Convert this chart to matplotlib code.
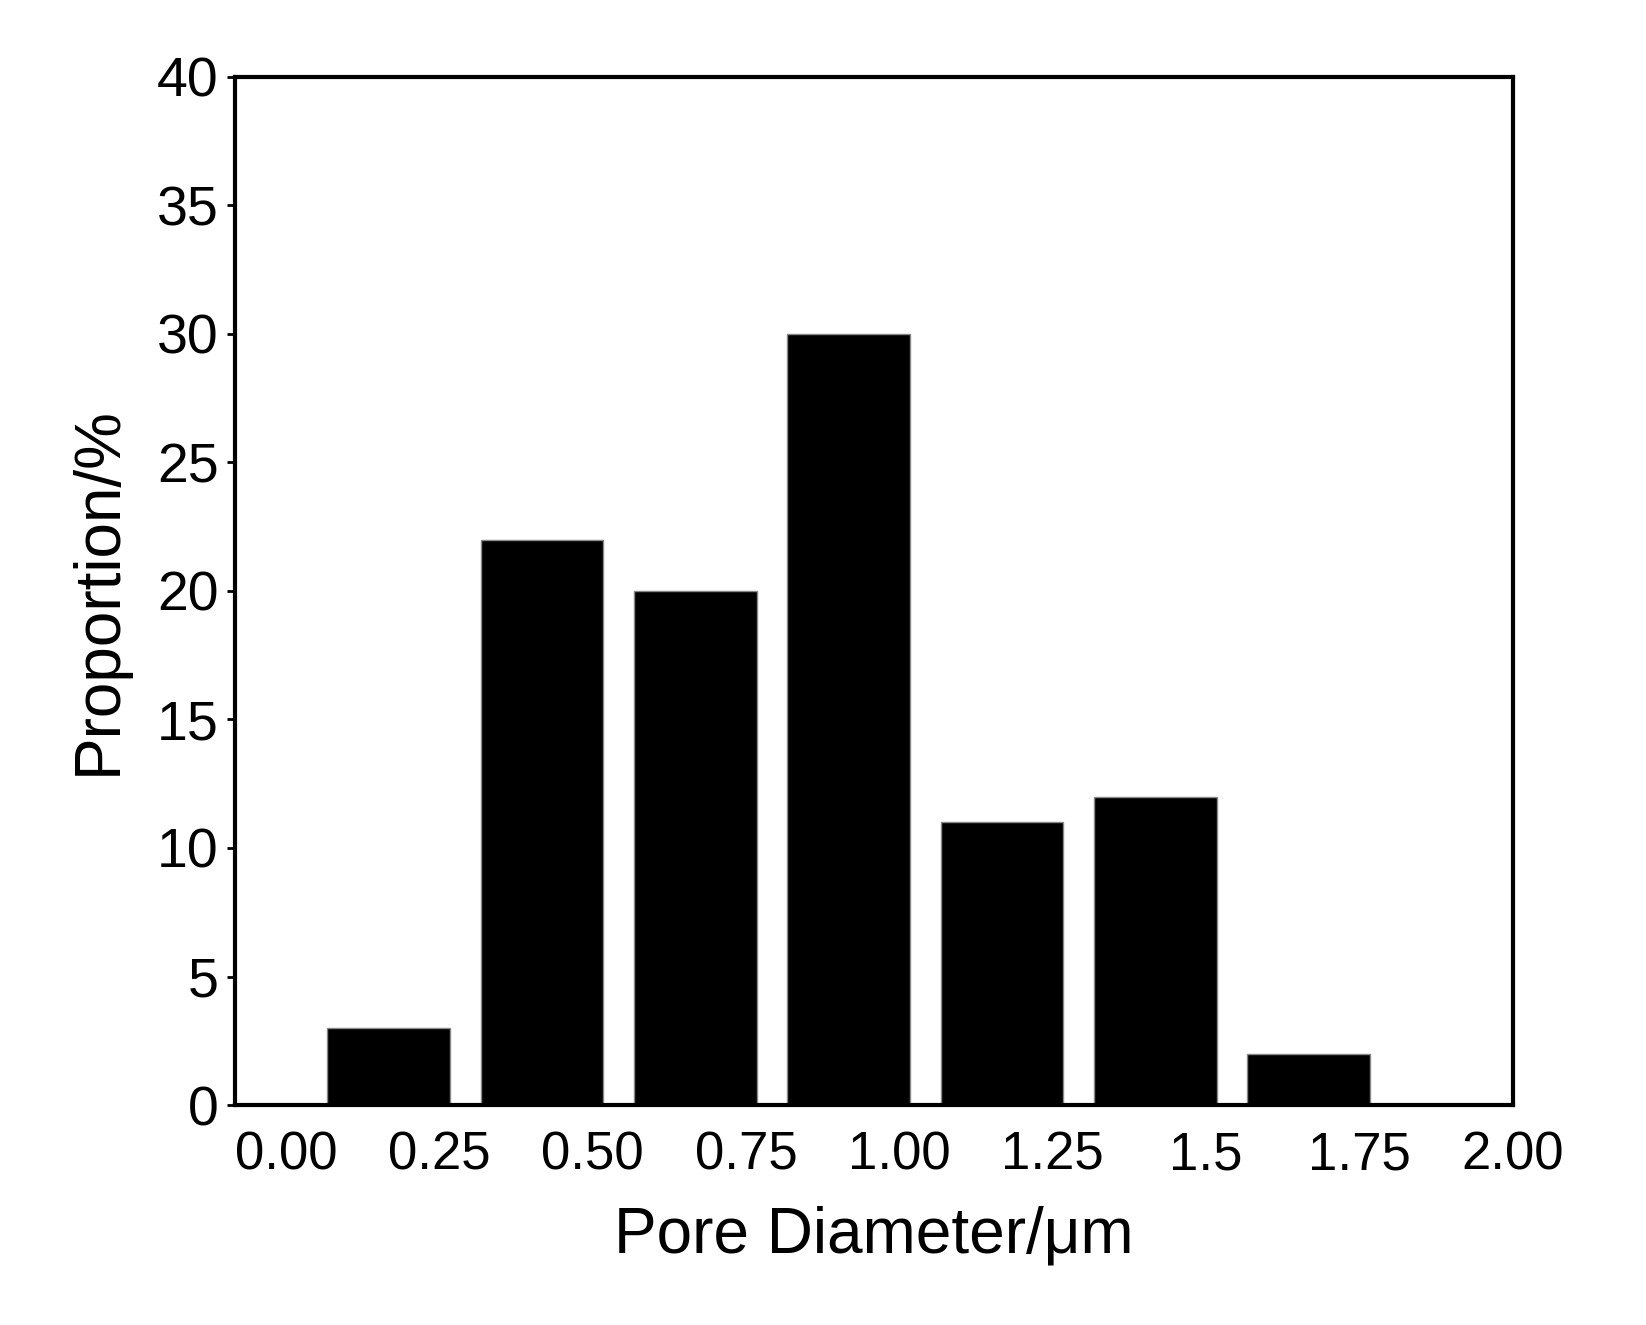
import matplotlib
matplotlib.use("Agg")
import matplotlib.pyplot as plt
import numpy as np

# pore size distribution
proportion = [3, 22, 20, 30, 11, 12, 2]
x_labels = ["0.00", "0.25", "0.50", "0.75", "1.00", "1.25", "1.5", "1.75", "2.00"]
y_ticks = [0, 5, 10, 15, 20, 25, 30, 35, 40]

plt.rcParams["font.family"] = ["Liberation Sans", "DejaVu Sans"]

fig = plt.figure(figsize=(16.46, 13.25), dpi=100)
ax = fig.add_axes([0.143, 0.166, 0.776, 0.776])

pos = np.arange(1, len(proportion) + 1)
ax.bar(pos, proportion, width=0.8, color="black", edgecolor="#888888", linewidth=1)

ax.set_xlim(0, 8)
ax.set_ylim(0, 40)
ax.set_xticks(np.arange(len(x_labels)) + 0.33)
ax.set_xticklabels(x_labels, fontsize=38)
ax.tick_params(axis="x", length=0, pad=18)
ax.set_yticks(y_ticks)
ax.tick_params(axis="y", labelsize=40, length=6, width=2, direction="out", pad=6)
for s in ax.spines.values():
    s.set_linewidth(3)

ax.set_xlabel("Pore Diameter/μm", fontsize=46, labelpad=18)
ax.set_ylabel("Proportion/%", fontsize=46, labelpad=20)

fig.savefig("out.png", dpi=100)
